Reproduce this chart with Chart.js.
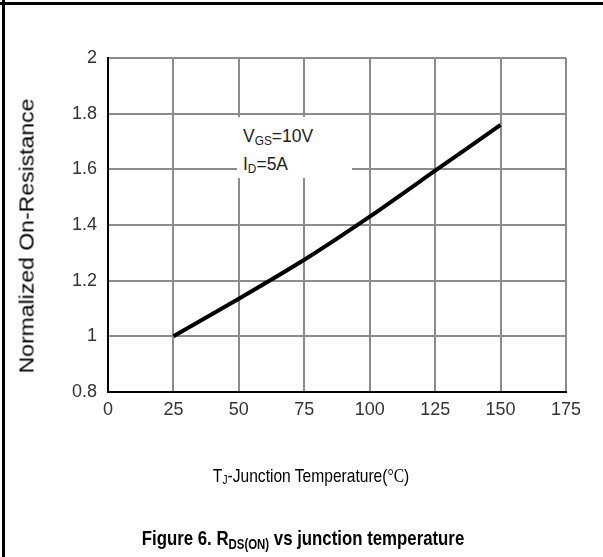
<!DOCTYPE html>
<html>
<head>
<meta charset="utf-8">
<script src="https://cdn.jsdelivr.net/npm/chart.js@4.4.1/dist/chart.umd.min.js"></script>
<style>
  body { margin: 0; background: #fff; }
  #wrap { position: relative; width: 603px; height: 557px; overflow: hidden; font-family: "Liberation Sans", Arial, sans-serif; color: #000; }
  #wrap canvas { position: absolute; left: 0; top: 0; }
  .edgeTop { position: absolute; left: 0; top: 2px; width: 603px; height: 3px; background: #000; }
  .edgeLeft { position: absolute; left: 2px; top: 0; width: 3px; height: 557px; background: #000; }
  .txt { position: absolute; white-space: nowrap; }
  .sub { font-size: 0.68em; vertical-align: -0.22em; }
  #ytitle { left: 27px; top: 236px; font-size: 23px; transform: translate(-50%, -50%) rotate(-90deg) scaleY(0.85); }
  #xtitle { left: 311px; top: 476px; font-size: 19px; transform: translate(-50%, -50%) scaleX(0.82); }
  #xtitle .deg { font-family: "Liberation Serif", "DejaVu Serif", serif; }
  #caption { left: 303px; top: 539px; font-size: 21px; font-weight: bold; transform: translate(-50%, -50%) scaleX(0.8); }
  #note { position: absolute; left: 237px; top: 117px; width: 115px; height: 61px; background: #fff; font-size: 19px; color: #222; }
  #note div { position: absolute; left: 6px; transform-origin: left center; transform: scaleX(0.92); }
</style>
</head>
<body>
<div id="wrap">
  <canvas id="rdsChart" width="603" height="557"></canvas>
  <div class="edgeTop"></div>
  <div class="edgeLeft"></div>
  <div id="note">
    <div style="top: 8px;">V<span class="sub">GS</span>=10V</div>
    <div style="top: 36px;">I<span class="sub">D</span>=5A</div>
  </div>
  <div class="txt" id="ytitle">Normalized On-Resistance</div>
  <div class="txt" id="xtitle">T<span class="sub">J</span>-Junction Temperature(<span class="deg">°C</span>)</div>
  <div class="txt" id="caption">Figure 6. R<span class="sub">DS(ON)</span> vs junction temperature</div>
</div>
<script>
// values
const temps = [25, 50, 75, 100, 125, 150];
const rdsNorm = [1.0, 1.135, 1.275, 1.43, 1.595, 1.76];

// axis ticks
const xTicks = [0, 25, 50, 75, 100, 125, 150, 175];
const yTicks = [0.8, 1, 1.2, 1.4, 1.6, 1.8, 2];

const gridGray = '#8c8c8c';
const tickFont = { family: '"Liberation Sans Narrow", "Arial Narrow", "Liberation Sans", Arial, sans-serif', size: 18 };

new Chart(document.getElementById('rdsChart').getContext('2d'), {
    type: 'line',
    data: {
        datasets: [{
            data: temps.map((t, i) => ({ x: t, y: rdsNorm[i] })),
            borderColor: '#000',
            borderWidth: 4,
            pointRadius: 0,
            tension: 0.2,
            fill: false
        }]
    },
    options: {
        responsive: false,
        animation: false,
        events: [],
        layout: { padding: { top: 58, right: 37, left: 0, bottom: 0 } },
        plugins: { legend: { display: false }, tooltip: { enabled: false } },
        scales: {
            x: {
                type: 'linear',
                min: xTicks[0],
                max: xTicks[xTicks.length - 1],
                afterBuildTicks: s => { s.ticks = xTicks.map(v => ({ value: v })); },
                afterFit: s => { s.height = 165; },
                ticks: { font: tickFont, color: '#333', padding: 7, maxRotation: 0, callback: v => String(v) },
                grid: { color: gridGray, lineWidth: 2, drawTicks: false },
                border: { color: '#000', width: 2 }
            },
            y: {
                min: yTicks[0],
                max: yTicks[yTicks.length - 1],
                afterBuildTicks: s => { s.ticks = yTicks.map(v => ({ value: v })); },
                afterFit: s => { s.width = 108; },
                ticks: { font: tickFont, color: '#333', padding: 11, callback: v => String(v) },
                grid: { color: gridGray, lineWidth: 2, drawTicks: false },
                border: { color: '#000', width: 2 }
            }
        }
    }
});
</script>
</body>
</html>
